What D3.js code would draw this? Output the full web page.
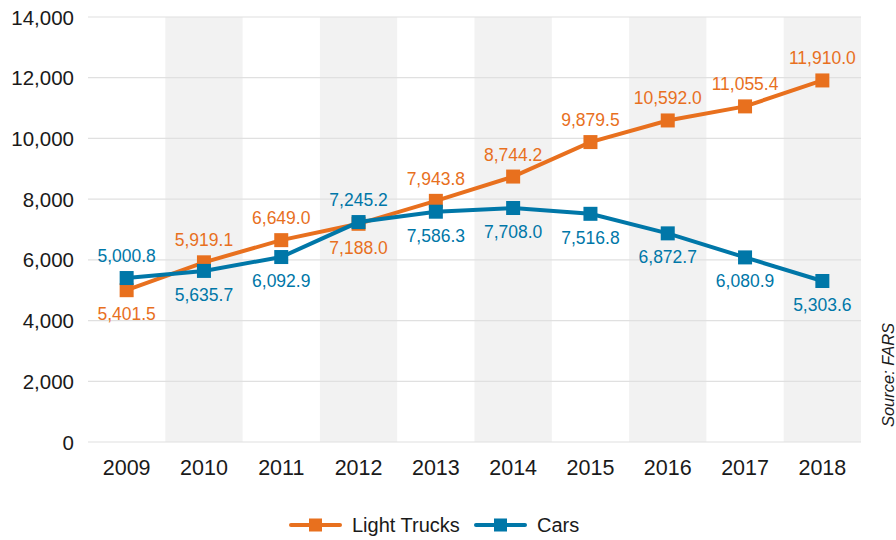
<!DOCTYPE html>
<html>
<head>
<meta charset="utf-8">
<script src="https://cdn.jsdelivr.net/npm/d3@7"></script>
<style>
  body { margin: 0; background: #fff; }
  text { font-family: "Liberation Sans", Arial, sans-serif; }
</style>
</head>
<body>
<svg id="chart"></svg>
<script>
const years = ["2009", "2010", "2011", "2012", "2013", "2014", "2015", "2016", "2017", "2018"];
const lightTrucks = [5000.8, 5919.1, 6649.0, 7188.0, 7943.8, 8744.2, 9879.5, 10592.0, 11055.4, 11910.0];
const cars = [5401.5, 5635.7, 6092.9, 7245.2, 7586.3, 7708.0, 7516.8, 6872.7, 6080.9, 5303.6];
// labels as printed on the source chart (2009 labels are swapped there)
const truckLabels = ["5,401.5", "5,919.1", "6,649.0", "7,188.0", "7,943.8", "8,744.2", "9,879.5", "10,592.0", "11,055.4", "11,910.0"];
const carLabels = ["5,000.8", "5,635.7", "6,092.9", "7,245.2", "7,586.3", "7,708.0", "7,516.8", "6,872.7", "6,080.9", "5,303.6"];
const yTicks = [0, 2000, 4000, 6000, 8000, 10000, 12000, 14000];

const size = { w: 896, h: 540 };
const margin = { t: 17, r: 35, b: 98, l: 88 };
const orange = "#e8701e";
const blue = "#0077a8";

const svg = d3.select("svg#chart").attr("width", size.w).attr("height", size.h);

const x = d3.scaleBand().domain(years).range([margin.l, size.w - margin.r]);
const y = d3.scaleLinear().domain([0, 14000]).range([size.h - margin.b, margin.t]);
const cx = (i) => x(years[i]) + x.bandwidth() / 2;

// alternating shaded columns
svg.append("g")
  .selectAll("rect")
  .data(years.filter((d, i) => i % 2 === 1))
  .join("rect")
  .attr("x", (d) => x(d))
  .attr("y", y(14000))
  .attr("width", x.bandwidth())
  .attr("height", y(0) - y(14000))
  .attr("fill", "#f2f2f2");

// gridlines
svg.append("g")
  .selectAll("line")
  .data(yTicks)
  .join("line")
  .attr("x1", margin.l)
  .attr("x2", size.w - margin.r)
  .attr("y1", (d) => y(d))
  .attr("y2", (d) => y(d))
  .attr("stroke", "#e0e0e0")
  .attr("stroke-width", 1.2);

// y axis labels
svg.append("g")
  .selectAll("text")
  .data(yTicks)
  .join("text")
  .attr("x", 74)
  .attr("y", (d) => y(d))
  .attr("text-anchor", "end")
  .attr("dominant-baseline", "central")
  .attr("font-size", 20.5)
  .attr("fill", "#1a1a1a")
  .text((d) => d3.format(",")(d));

// x axis labels
svg.append("g")
  .selectAll("text")
  .data(years)
  .join("text")
  .attr("x", (d) => x(d) + x.bandwidth() / 2)
  .attr("y", 468)
  .attr("text-anchor", "middle")
  .attr("dominant-baseline", "central")
  .attr("font-size", 21.5)
  .attr("fill", "#1a1a1a")
  .text((d) => d);

const line = d3.line().x((d, i) => cx(i)).y((d) => y(d));

function drawSeries(values, color) {
  svg.append("path")
    .datum(values)
    .attr("d", line)
    .attr("fill", "none")
    .attr("stroke", color)
    .attr("stroke-width", 4);
  svg.append("g")
    .selectAll("rect")
    .data(values)
    .join("rect")
    .attr("x", (d, i) => cx(i) - 7)
    .attr("y", (d) => y(d) - 7)
    .attr("width", 14)
    .attr("height", 14)
    .attr("fill", color);
}

drawSeries(lightTrucks, orange);
drawSeries(cars, blue);

// data labels: trucks above except where crossing, cars below except where crossing
const truckBelow = (i) => i === 0 || i === 3;
const carAbove = (i) => i === 0 || i === 3;

svg.append("g")
  .selectAll("text")
  .data(truckLabels)
  .join("text")
  .attr("x", (d, i) => cx(i))
  .attr("y", (d, i) => y(lightTrucks[i]) + (truckBelow(i) ? 24 : -22))
  .attr("text-anchor", "middle")
  .attr("dominant-baseline", "central")
  .attr("font-size", 17.5)
  .attr("fill", orange)
  .text((d) => d);

svg.append("g")
  .selectAll("text")
  .data(carLabels)
  .join("text")
  .attr("x", (d, i) => cx(i))
  .attr("y", (d, i) => y(cars[i]) + (carAbove(i) ? -22 : 24))
  .attr("text-anchor", "middle")
  .attr("dominant-baseline", "central")
  .attr("font-size", 17.5)
  .attr("fill", blue)
  .text((d) => d);

// legend
const legend = [
  { name: "Light Trucks", color: orange, x: 291 },
  { name: "Cars", color: blue, x: 476 },
];
const lg = svg.append("g").selectAll("g").data(legend).join("g")
  .attr("transform", (d) => `translate(${d.x}, 525)`);
lg.append("line")
  .attr("x1", 0).attr("x2", 49)
  .attr("stroke", (d) => d.color)
  .attr("stroke-width", 4)
  .attr("stroke-linecap", "round");
lg.append("rect")
  .attr("x", 18).attr("y", -6.5)
  .attr("width", 13).attr("height", 13)
  .attr("fill", (d) => d.color);
lg.append("text")
  .attr("x", 61)
  .attr("dominant-baseline", "central")
  .attr("font-size", 20)
  .attr("fill", "#1a1a1a")
  .text((d) => d.name);

// source note
svg.append("text")
  .attr("transform", "translate(888, 375) rotate(-90)")
  .attr("text-anchor", "middle")
  .attr("dominant-baseline", "central")
  .attr("font-size", 16.5)
  .attr("font-style", "italic")
  .attr("fill", "#1a1a1a")
  .text("Source: FARS");
</script>
</body>
</html>
